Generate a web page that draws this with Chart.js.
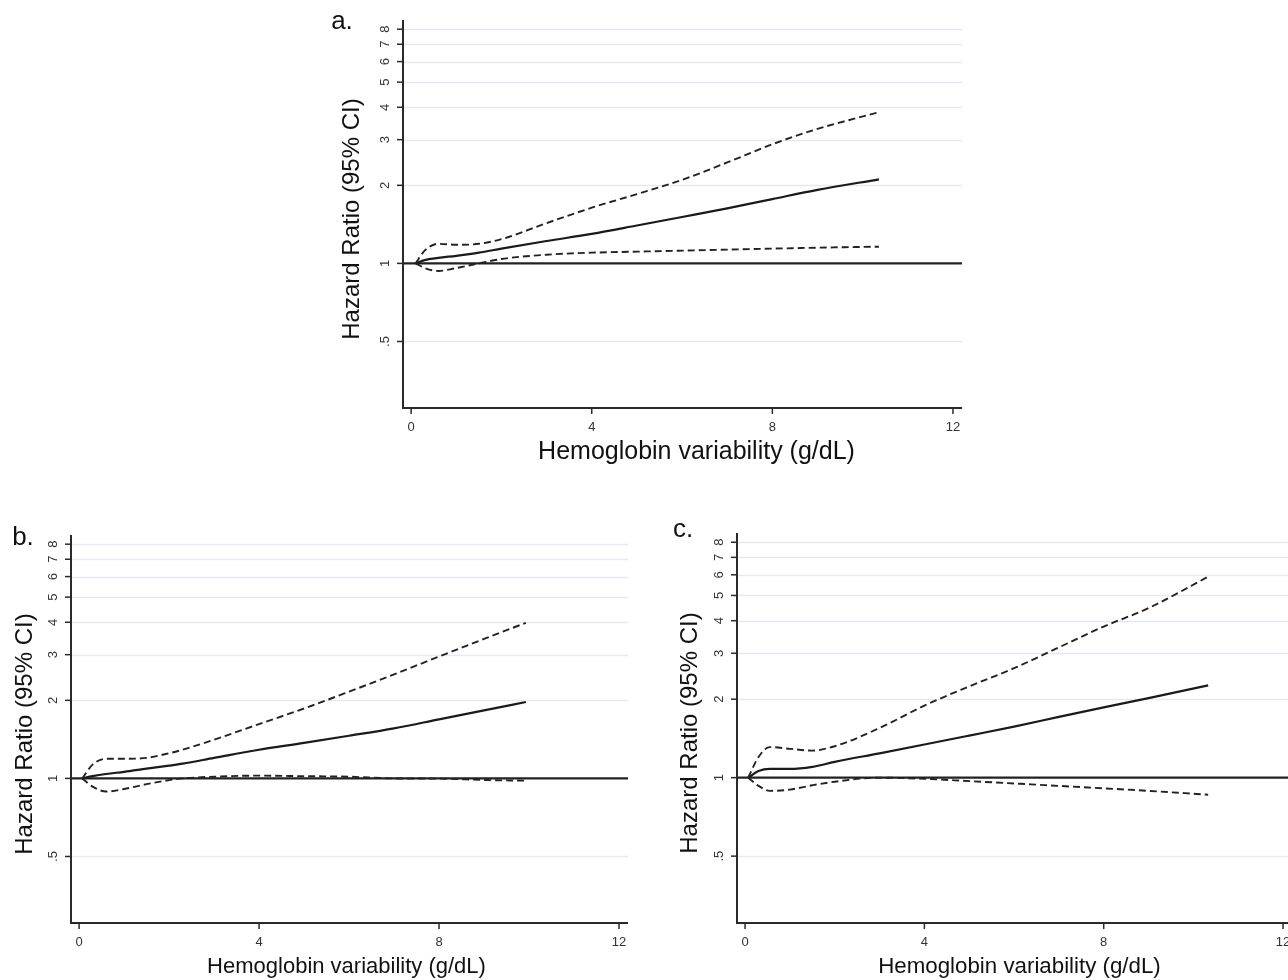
<!DOCTYPE html>
<html>
<head>
<meta charset="utf-8">
<script src="https://cdn.jsdelivr.net/npm/chart.js@4.4.1/dist/chart.umd.min.js"></script>
<style>
html, body { margin: 0; padding: 0; background: #fff; overflow: hidden; width: 1288px; height: 980px; }
canvas { position: absolute; }
</style>
</head>
<body>
<canvas id="chartA" width="700" height="480" style="left:300px;top:0px"></canvas>
<canvas id="chartB" width="660" height="480" style="left:0px;top:500px"></canvas>
<canvas id="chartC" width="660" height="480" style="left:660px;top:500px"></canvas>
<script>
"use strict";
// axis ticks
var xTicks = [0, 4, 8, 12];
var yTicks = [0.5, 1, 2, 3, 4, 5, 6, 7, 8];
var yTickLabels = [".5", "1", "2", "3", "4", "5", "6", "7", "8"];
var xMin = -0.18, xMax = 12.2;
var yMin = 0.277, yMax = 8.68;

// reference line at HR = 1
var refX = [xMin, xMax];
var refY = [1, 1];

// panel a
var aX = [0.1, 0.3, 0.6, 1, 1.5, 2, 3, 4, 5, 6, 7, 8, 9, 10.36];
var aHR = [1, 1.03, 1.05, 1.07, 1.1, 1.14, 1.22, 1.3, 1.4, 1.51, 1.63, 1.77, 1.92, 2.11];
var aUpper = [1, 1.12, 1.19, 1.18, 1.19, 1.24, 1.43, 1.64, 1.85, 2.1, 2.45, 2.88, 3.3, 3.83];
var aLower = [1, 0.96, 0.935, 0.96, 1.0, 1.04, 1.08, 1.1, 1.11, 1.12, 1.13, 1.14, 1.15, 1.16];

// panel b
var bX = [0.07, 0.3, 0.6, 1, 1.5, 2, 2.3, 3, 4, 5, 6, 7, 8, 9, 9.93];
var bHR = [1, 1.02, 1.04, 1.06, 1.09, 1.12, 1.14, 1.2, 1.29, 1.37, 1.46, 1.56, 1.69, 1.83, 1.97];
var bUpper = [1, 1.13, 1.19, 1.19, 1.2, 1.25, 1.29, 1.41, 1.62, 1.86, 2.16, 2.52, 2.95, 3.45, 3.98];
var bLower = [1, 0.93, 0.89, 0.91, 0.95, 0.985, 1.0, 1.015, 1.025, 1.02, 1.015, 1.0, 0.998, 0.986, 0.98];

// panel c
var cX = [0.07, 0.3, 0.55, 1, 1.5, 2, 3, 4, 5, 6, 7, 8, 9, 10.33];
var cHR = [1, 1.06, 1.08, 1.08, 1.1, 1.15, 1.24, 1.34, 1.45, 1.57, 1.71, 1.86, 2.02, 2.26];
var cUpper = [1, 1.2, 1.31, 1.29, 1.27, 1.32, 1.55, 1.89, 2.24, 2.63, 3.16, 3.8, 4.47, 5.9];
var cLower = [1, 0.93, 0.89, 0.9, 0.935, 0.965, 1.0, 0.99, 0.97, 0.95, 0.93, 0.91, 0.89, 0.86];

var xTitle = "Hemoglobin variability (g/dL)";
var yTitle = "Hazard Ratio (95% CI)";

function pts(xs, ys) {
    return xs.map(function (x, i) {
        return { x: x, y: ys[i] };
    });
}

// gridlines, axes, ticks, titles
var stataAxes = {
    id: "stataAxes",
    beforeDatasetsDraw: function (chart) {
        var ctx = chart.ctx;
        var a = chart.chartArea;
        var y = chart.scales.y;
        ctx.save();
        ctx.strokeStyle = "#e3ebf0";
        ctx.lineWidth = 1.5;
        yTicks.forEach(function (v) {
            if (v === 1) return;
            var py = Math.round(y.getPixelForValue(v)) + 0.5;
            ctx.beginPath();
            ctx.moveTo(a.left, py);
            ctx.lineTo(a.right, py);
            ctx.stroke();
        });
        ctx.restore();
    },
    afterDraw: function (chart, args, o) {
        var ctx = chart.ctx;
        var a = chart.chartArea;
        var x = chart.scales.x;
        var y = chart.scales.y;
        ctx.save();
        ctx.strokeStyle = "#2a2a2a";
        ctx.lineWidth = 2;
        ctx.beginPath();
        ctx.moveTo(a.left, a.top);
        ctx.lineTo(a.left, a.bottom);
        ctx.lineTo(a.right, a.bottom);
        ctx.stroke();

        ctx.lineWidth = 1.5;
        ctx.fillStyle = "#333";
        ctx.font = "13px 'Liberation Sans', Arial, sans-serif";
        ctx.textAlign = "center";
        ctx.textBaseline = "middle";
        yTicks.forEach(function (v, i) {
            var py = y.getPixelForValue(v);
            ctx.beginPath();
            ctx.moveTo(a.left - 6, py);
            ctx.lineTo(a.left, py);
            ctx.stroke();
            ctx.save();
            ctx.translate(a.left - 18, py);
            ctx.rotate(-Math.PI / 2);
            ctx.fillText(yTickLabels[i], 0, 0);
            ctx.restore();
        });
        xTicks.forEach(function (v) {
            var px = x.getPixelForValue(v);
            ctx.beginPath();
            ctx.moveTo(px, a.bottom);
            ctx.lineTo(px, a.bottom + 6);
            ctx.stroke();
            ctx.fillText(String(v), px, a.bottom + 19);
        });

        ctx.fillStyle = "#111";
        ctx.font = o.titleSize + "px 'Liberation Sans', Arial, sans-serif";
        ctx.fillText(xTitle, (a.left + a.right) / 2 + o.xTitleShift, a.bottom + 44);
        ctx.save();
        ctx.translate(a.left - o.yTitleGap, (a.top + a.bottom) / 2 + 5);
        ctx.rotate(-Math.PI / 2);
        ctx.font = "24px 'Liberation Sans', Arial, sans-serif";
        ctx.fillText(yTitle, 0, 0);
        ctx.restore();

        ctx.font = "26px 'Liberation Sans', Arial, sans-serif";
        ctx.fillText(o.letter, o.letterX, o.letterY);
        ctx.restore();
    },
};

function makePanel(id, xs, hr, up, lo, pad, extra) {
    var ctx = document.getElementById(id).getContext("2d");
    var dashed = {
        borderColor: "#222",
        borderWidth: 1.9,
        borderDash: [7, 4],
        pointRadius: 0,
        cubicInterpolationMode: "monotone",
    };
    return new Chart(ctx, {
        type: "line",
        data: {
            datasets: [
                Object.assign({ label: "upper", data: pts(xs, up) }, dashed),
                Object.assign({ label: "lower", data: pts(xs, lo) }, dashed),
                {
                    label: "HR",
                    data: pts(xs, hr),
                    borderColor: "#1a1a1a",
                    borderWidth: 2.2,
                    pointRadius: 0,
                    cubicInterpolationMode: "monotone",
                },
                {
                    label: "ref",
                    data: pts(refX, refY),
                    borderColor: "#222",
                    borderWidth: 2.2,
                    pointRadius: 0,
                },
            ],
        },
        options: {
            responsive: false,
            animation: false,
            layout: { padding: pad },
            plugins: {
                legend: { display: false },
                tooltip: { enabled: false },
                stataAxes: extra,
            },
            scales: {
                x: { type: "linear", min: xMin, max: xMax, display: false },
                y: { type: "logarithmic", min: yMin, max: yMax, display: false },
            },
        },
        plugins: [stataAxes],
    });
}

makePanel("chartA", aX, aHR, aUpper, aLower,
    { left: 103, top: 20, right: 38, bottom: 72 },
    { letter: "a.", letterX: 42, letterY: 22, titleSize: 25, xTitleShift: 14, yTitleGap: 51 });
makePanel("chartB", bX, bHR, bUpper, bLower,
    { left: 71, top: 35, right: 32, bottom: 57 },
    { letter: "b.", letterX: 23, letterY: 38, titleSize: 22, xTitleShift: -3, yTitleGap: 46 });
makePanel("chartC", cX, cHR, cUpper, cLower,
    { left: 77, top: 33, right: 28, bottom: 57 },
    { letter: "c.", letterX: 23, letterY: 30, titleSize: 22.3, xTitleShift: 5, yTitleGap: 47 });
</script>
</body>
</html>
